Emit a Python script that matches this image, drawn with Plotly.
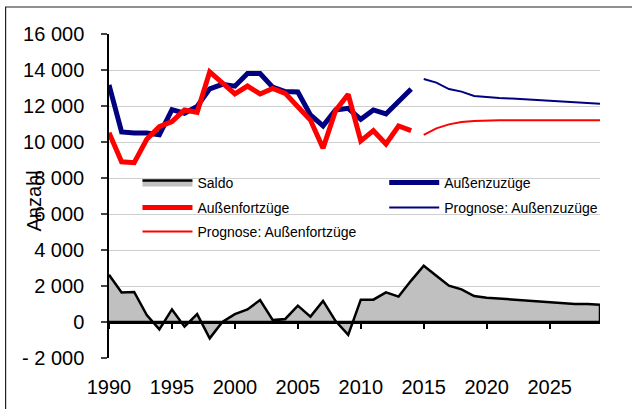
import plotly.graph_objects as go

# ---------------- data ----------------
years_hist = list(range(1990, 2015))
years_prog = list(range(2015, 2030))
years_all = list(range(1990, 2030))

zuzuege_hist = [13170, 10560, 10500, 10500, 10400, 11800, 11600, 11980, 12950, 13200,
                13100, 13800, 13800, 13050, 12800, 12780, 11500, 10900, 11780, 11870,
                11260, 11780, 11560, 12240, 12940]
fortzuege_hist = [10520, 8900, 8850, 10150, 10850, 11130, 11780, 11650, 13900, 13260,
                  12670, 13110, 12670, 12980, 12700, 11960, 11220, 9650, 11750, 12650,
                  10060, 10630, 9890, 10890, 10630]
zuzuege_prog = [13500, 13300, 12940, 12800, 12560, 12480, 12440, 12410, 12370, 12330,
                12300, 12260, 12200, 12170, 12130]
fortzuege_prog = [10390, 10760, 10980, 11110, 11170, 11200, 11210, 11210, 11210, 11210,
                  11210, 11210, 11210, 11210, 11210]
saldo = [2620, 1640, 1670, 390, -410, 700, -260, 440, -910, 0,
         440, 700, 1220, 110, 170, 910, 300, 1170, 50, -720,
         1240, 1240, 1650, 1410, 2300, 3130, 2570, 2020, 1810, 1440,
         1350, 1300, 1240, 1180, 1150, 1110, 1060, 1000, 1000, 960]

x_tick_years = [1990, 1995, 2000, 2005, 2010, 2015, 2020, 2025]
y_tick_vals = list(range(-2000, 16001, 2000))


def fmt(v):
    s = f"{abs(v):,}".replace(",", " ")
    return ("- " + s) if v < 0 else s


y_tick_text = [fmt(v) for v in y_tick_vals]

FONT = "Liberation Sans, Arial, sans-serif"
BLUE = "#000080"
RED = "#FF0000"

fig = go.Figure()

# Saldo area (closed polygon down to zero)
fig.add_trace(go.Scatter(
    x=years_all + [years_all[-1], years_all[0]],
    y=saldo + [0, 0],
    fill="toself", fillcolor="#C0C0C0",
    mode="lines", line=dict(color="black", width=2.5),
    name="Saldo", legend="legend", xaxis="x2",
))
fig.add_trace(go.Scatter(
    x=years_hist, y=zuzuege_hist, mode="lines",
    line=dict(color=BLUE, width=5), name="Außenzuzüge", legend="legend2",
))
fig.add_trace(go.Scatter(
    x=years_hist, y=fortzuege_hist, mode="lines",
    line=dict(color=RED, width=5), name="Außenfortzüge", legend="legend3",
))
fig.add_trace(go.Scatter(
    x=years_prog, y=zuzuege_prog, mode="lines",
    line=dict(color=BLUE, width=2), name="Prognose: Außenzuzüge", legend="legend4",
))
fig.add_trace(go.Scatter(
    x=years_prog, y=fortzuege_prog, mode="lines",
    line=dict(color=RED, width=2), name="Prognose: Außenfortzüge", legend="legend5",
))

W, H = 632, 409
L, R, T, B = 108.5, 32, 34, 51
pw = W - L - R
ph = H - T - B


def px_x(p):
    return (p - L) / pw


def px_y(p):
    return (H - B - p) / ph


legend_common = dict(
    orientation="h", xref="paper", yref="paper",
    xanchor="left", yanchor="middle",
    bgcolor="rgba(0,0,0,0)", borderwidth=0,
    font=dict(family=FONT, size=14, color="black"),
    itemwidth=50,
)

LX, RX = 137, 384
R1, R2, R3 = 183, 208, 232

fig.update_layout(
    width=W, height=H,
    margin=dict(l=L, r=R, t=T, b=B, autoexpand=False),
    paper_bgcolor="white", plot_bgcolor="white",
    font=dict(family=FONT, color="black"),
    showlegend=True,
    xaxis=dict(
        range=[1990, 2029], tickvals=x_tick_years,
        tickfont=dict(family=FONT, size=20, color="black"),
        showgrid=False, showline=False, zeroline=False,
        ticks="", ticklabelstandoff=15, automargin=False,
    ),
    xaxis2=dict(
        overlaying="x", matches="x", anchor="free", position=2000 / 18000,
        range=[1990, 2029], tickvals=x_tick_years,
        showticklabels=False, showgrid=False, zeroline=False,
        showline=True, linecolor="black", linewidth=2.5,
        ticks="outside", ticklen=5, tickcolor="black", tickwidth=1.5,
        automargin=False,
    ),
    yaxis=dict(
        range=[-2000, 16000], tickvals=y_tick_vals, ticktext=y_tick_text,
        tickfont=dict(family=FONT, size=20, color="black"),
        showgrid=True, gridcolor="#CFCFCF", gridwidth=1,
        showline=True, linecolor="black", linewidth=1.5,
        ticks="outside", ticklen=6, tickcolor="#444444", tickwidth=1.5,
        zeroline=False, ticklabelstandoff=13, automargin=False,
    ),
    legend=dict(legend_common, x=px_x(LX), y=px_y(R1)),
    legend2=dict(legend_common, x=px_x(RX), y=px_y(R1)),
    legend3=dict(legend_common, x=px_x(LX), y=px_y(R2)),
    legend4=dict(legend_common, x=px_x(RX), y=px_y(R2)),
    legend5=dict(legend_common, x=px_x(LX), y=px_y(R3)),
    shapes=[
        # white legend background hiding gridlines
        dict(type="rect", xref="paper", yref="paper",
             x0=px_x(130), x1=px_x(605), y0=px_y(245), y1=px_y(168),
             fillcolor="white", line=dict(width=0), layer="between"),
        # outer chart border
        dict(type="rect", xref="paper", yref="paper",
             x0=px_x(5), x1=px_x(700), y0=px_y(480), y1=px_y(7),
             fillcolor="rgba(0,0,0,0)", line=dict(color="#222222", width=1.2)),
    ],
    annotations=[
        dict(text="Anzahl", xref="paper", yref="paper",
             x=px_x(33), y=px_y(201), textangle=-90, showarrow=False,
             font=dict(family=FONT, size=20, color="black"),
             xanchor="center", yanchor="middle"),
    ],
)

fig.write_html("out.html", config={"displayModeBar": False},
               post_script="document.body.style.margin='0';document.body.style.overflow='hidden';")
